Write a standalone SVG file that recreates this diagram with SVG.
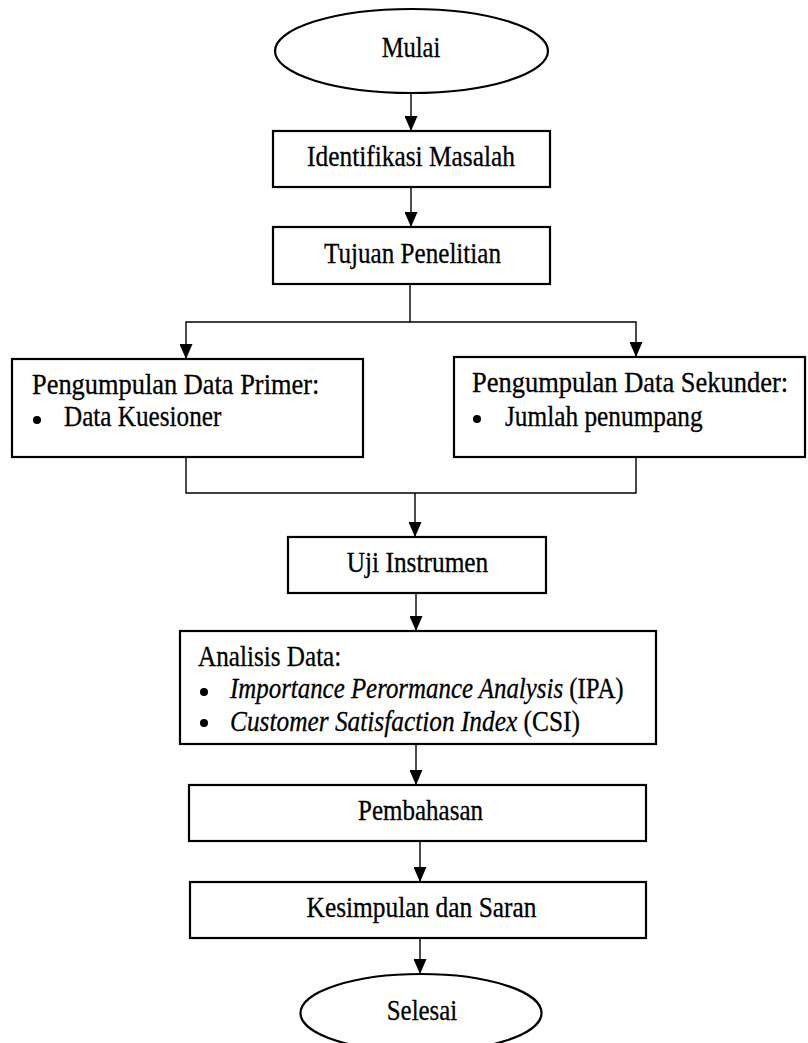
<svg xmlns="http://www.w3.org/2000/svg" width="808" height="1043" viewBox="0 0 808 1043">
<style>
.box{fill:#fff;stroke:#000;stroke-width:2.2}
.ln{fill:none;stroke:#000;stroke-width:1.4}
.t{font-family:"Liberation Serif","Times New Roman",serif;font-size:30px;fill:#000;stroke:#000;stroke-width:0.3}
.c{text-anchor:middle}
.it{font-style:italic}
</style>
<defs>
<marker id="ah" markerUnits="userSpaceOnUse" markerWidth="15" markerHeight="13" viewBox="0 0 15 13" refX="15" refY="6.5" orient="auto">
<path d="M0,0 L15,6.5 L0,13 z" fill="#000"/>
</marker>
</defs>
<rect width="808" height="1043" fill="#fff"/>
<g id="connectors">
<line class="ln" x1="411" y1="93" x2="411" y2="131" marker-end="url(#ah)"/>
<line class="ln" x1="411" y1="187" x2="411" y2="227" marker-end="url(#ah)"/>
<polyline class="ln" points="410,284 410,322 186,322 186,359" marker-end="url(#ah)"/>
<polyline class="ln" points="410,322 636,322 636,357" marker-end="url(#ah)"/>
<polyline class="ln" points="186,457 186,493 636,493 636,457"/>
<line class="ln" x1="415" y1="493" x2="415" y2="537" marker-end="url(#ah)"/>
<line class="ln" x1="416" y1="593" x2="416" y2="631" marker-end="url(#ah)"/>
<line class="ln" x1="416" y1="744" x2="416" y2="785" marker-end="url(#ah)"/>
<line class="ln" x1="420" y1="841" x2="420" y2="882" marker-end="url(#ah)"/>
<line class="ln" x1="420" y1="938" x2="420" y2="974" marker-end="url(#ah)"/>
</g>
<g id="mulai">
<ellipse class="box" cx="411.5" cy="51" rx="136.5" ry="42"/>
<text class="t c" transform="translate(411,57) scale(0.82,1)">Mulai</text>
</g>
<g id="identifikasi">
<rect class="box" x="273" y="131" width="277" height="56"/>
<text class="t c" transform="translate(411,166) scale(0.846,1)">Identifikasi Masalah</text>
</g>
<g id="tujuan">
<rect class="box" x="273" y="227" width="277" height="57"/>
<text class="t c" transform="translate(412.5,263) scale(0.838,1)">Tujuan Penelitian</text>
</g>
<g id="primer">
<rect class="box" x="12" y="359" width="351" height="98"/>
<text class="t" transform="translate(32,394) scale(0.88,1)">Pengumpulan Data Primer:</text>
<circle cx="37" cy="420" r="4"/>
<text class="t" transform="translate(64,426) scale(0.84,1)">Data Kuesioner</text>
</g>
<g id="sekunder">
<rect class="box" x="454" y="357" width="351" height="100"/>
<text class="t" transform="translate(472,392) scale(0.883,1)">Pengumpulan Data Sekunder:</text>
<circle cx="477" cy="419" r="4"/>
<text class="t" transform="translate(505,426) scale(0.844,1)">Jumlah penumpang</text>
</g>
<g id="uji">
<rect class="box" x="288" y="537" width="258" height="56"/>
<text class="t c" transform="translate(417.5,572) scale(0.846,1)">Uji Instrumen</text>
</g>
<g id="analisis">
<rect class="box" x="180" y="631" width="476" height="113"/>
<text class="t" transform="translate(198,666) scale(0.839,1)">Analisis Data:</text>
<circle cx="204" cy="692" r="4"/>
<text class="t" transform="translate(230,698) scale(0.83,1)"><tspan class="it">Importance Perormance Analysis</tspan> (IPA)</text>
<circle cx="204" cy="723" r="4"/>
<text class="t" transform="translate(230,731) scale(0.845,1)"><tspan class="it">Customer Satisfaction Index</tspan> (CSI)</text>
</g>
<g id="pembahasan">
<rect class="box" x="189" y="785" width="457" height="56"/>
<text class="t c" transform="translate(420.5,820) scale(0.834,1)">Pembahasan</text>
</g>
<g id="kesimpulan">
<rect class="box" x="190" y="882" width="456" height="56"/>
<text class="t c" transform="translate(421.5,917) scale(0.847,1)">Kesimpulan dan Saran</text>
</g>
<g id="selesai">
<ellipse class="box" cx="421" cy="1013" rx="120.5" ry="39"/>
<text class="t c" transform="translate(422,1020) scale(0.83,1)">Selesai</text>
</g>
</svg>
